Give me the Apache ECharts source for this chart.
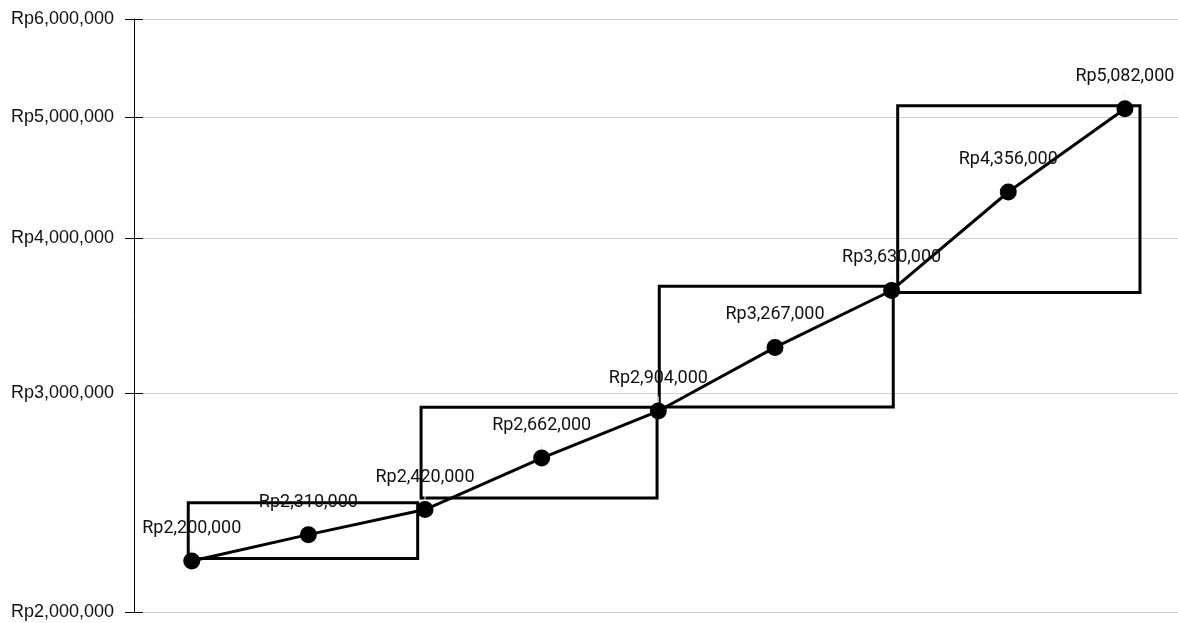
<!DOCTYPE html>
<html>
<head>
<meta charset="utf-8">
<script src="https://cdn.jsdelivr.net/npm/echarts@6/dist/echarts.min.js"></script>
<style>
  html, body { margin: 0; padding: 0; background: #fff; }
  #chart { width: 1178px; height: 623px; }
</style>
</head>
<body>
<div id="chart"></div>
<script>
// Price steps (x positions) and prices
const steps = [0, 1, 2, 3, 4, 5, 6, 7, 8];
const prices = [2200000, 2310000, 2420000, 2662000, 2904000, 3267000, 3630000, 4356000, 5082000];
const yTicks = [2000000, 3000000, 4000000, 5000000, 6000000];

// Range boxes: step span and price span of each box
const boxFrom = [-0.03, 1.966, 4.008, 6.052];
const boxTo = [1.937, 3.989, 6.014, 8.129];
const boxLow = [2210000, 2472000, 2926000, 3617000];
const boxHigh = [2450000, 2925000, 3659000, 5109000];

function rupiah(v) {
  return 'Rp' + String(Math.round(v)).replace(/\B(?=(\d{3})+(?!\d))/g, ',');
}

const lineData = steps.map((s, i) => [s, prices[i]]);
const boxData = boxFrom.map((f, i) => [f, boxTo[i], boxLow[i], boxHigh[i]]);

const chart = echarts.init(document.getElementById('chart'), null, { renderer: 'canvas' });

const yBase = {
  type: 'log',
  logBase: 10,
  min: 2000000,
  max: 6000000,
  position: 'left'
};

chart.setOption({
  animation: false,
  backgroundColor: '#fff',
  grid: { left: 134, right: 0, top: 19, bottom: 10.5, containLabel: false },
  xAxis: {
    type: 'value',
    min: -0.495,
    max: 8.455,
    show: false
  },
  yAxis: [
    Object.assign({}, yBase, {
      axisLine: { show: true, onZero: false, lineStyle: { color: '#000', width: 1 } },
      axisTick: { show: true, inside: false, length: 9, lineStyle: { color: '#000', width: 1 }, customValues: yTicks },
      axisLabel: {
        show: true,
        customValues: yTicks,
        margin: 20,
        color: '#111',
        fontSize: 18,
        fontFamily: 'Liberation Sans, Arial, sans-serif',
        formatter: rupiah
      },
      splitLine: { show: true, lineStyle: { color: '#d0d0d0', width: 1 } }
    }),
    Object.assign({}, yBase, {
      axisLine: { show: false, onZero: false },
      axisTick: { show: true, inside: true, length: 9, lineStyle: { color: '#000', width: 1 }, customValues: yTicks },
      axisLabel: { show: false },
      splitLine: { show: false }
    })
  ],
  series: [
    {
      type: 'custom',
      name: 'ranges',
      xAxisIndex: 0,
      yAxisIndex: 0,
      data: boxData,
      encode: { x: [0, 1], y: [2, 3] },
      clip: false,
      silent: true,
      renderItem: function (params, api) {
        const p0 = api.coord([api.value(0), api.value(3)]);
        const p1 = api.coord([api.value(1), api.value(2)]);
        return {
          type: 'rect',
          shape: { x: p0[0], y: p0[1], width: p1[0] - p0[0], height: p1[1] - p0[1] },
          style: { fill: 'none', stroke: '#000', lineWidth: 3 }
        };
      },
      z: 2
    },
    {
      type: 'line',
      name: 'price',
      xAxisIndex: 0,
      yAxisIndex: 0,
      data: lineData,
      symbol: 'circle',
      symbolSize: 17,
      itemStyle: { color: '#000' },
      lineStyle: { color: '#000', width: 3 },
      label: {
        show: true,
        position: 'top',
        distance: 15,
        color: '#111',
        fontSize: 18,
        fontFamily: 'Roboto, sans-serif',
        formatter: p => rupiah(p.value[1])
      },
      labelLine: { show: true, lineStyle: { color: '#e8e8e8', width: 1 } },
      z: 3
    }
  ]
});
</script>
</body>
</html>
